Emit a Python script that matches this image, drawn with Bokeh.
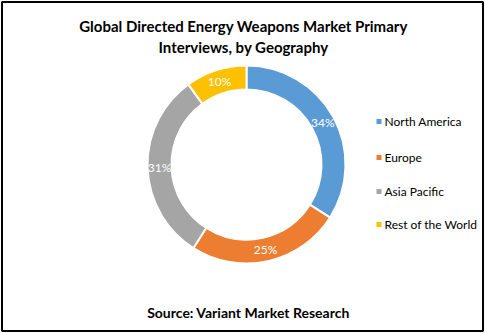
import numpy as np
from bokeh.plotting import figure
from bokeh.models import Range1d, ColumnDataSource
from bokeh.core.properties import value
from bokeh.embed import file_html
from bokeh.resources import INLINE

title_lines = ["Global Directed Energy Weapons Market Primary", "Interviews, by Geography"]
categories = ["North America", "Europe", "Asia Pacific", "Rest of the World"]
shares = [34, 25, 31, 10]
colors = ["#5B9BD5", "#ED7D31", "#A5A5A5", "#FFC000"]
source_note = "Source: Variant Market Research"

W, H = 485, 333
FONT = "Lato"

p = figure(width=W, height=H, output_backend="svg", toolbar_location=None,
           x_range=Range1d(0, W), y_range=Range1d(0, H), min_border=0)
p.axis.visible = False
p.grid.visible = False
p.outline_line_color = None
p.background_fill_color = "white"

# frame border
p.quad(left=[1.5], right=[482.5], top=[H - 1.5], bottom=[H - 330.5],
       fill_color=None, line_color="black", line_width=2)

cx, cy = 246, H - 164
r_in, r_out, r_lab = 75, 99, 87

vals = np.array(shares, dtype=float)
frac = vals / vals.sum()
cum = np.concatenate([[0], np.cumsum(frac)])
start = np.pi / 2 - cum[:-1] * 2 * np.pi
end = np.pi / 2 - cum[1:] * 2 * np.pi
mid = (start + end) / 2

src = ColumnDataSource(dict(start=start, end=end, color=colors,
                            lx=cx + r_lab * np.cos(mid), ly=cy + r_lab * np.sin(mid),
                            lab=[f"{v}%" for v in shares]))
p.annular_wedge(x=cx, y=cy, inner_radius=r_in, outer_radius=r_out,
                start_angle="start", end_angle="end", direction="clock",
                fill_color="color", line_color="white", line_width=2, source=src)
p.text(x="lx", y="ly", text="lab", source=src, text_color="white",
       text_font=value(FONT), text_font_size="12px",
       text_align="center", text_baseline="middle")

# legend
ly = [H - 121, H - 157, H - 191, H - 224]
leg = ColumnDataSource(dict(y=ly, color=colors, name=categories))
p.scatter(x=378.5, y="y", source=leg, marker="square", size=5,
          fill_color="color", line_color=None)
p.text(x=384, y="y", text="name", source=leg, text_color="#000000",
       text_font=value(FONT), text_font_size="12px",
       text_align="left", text_baseline="middle")

# title
p.text(x=[243, 243], y=[H - 25, H - 46], text=title_lines, text_color="#000000",
       text_font=value(FONT), text_font_size="15px", text_font_style="bold",
       text_align="center", text_baseline="middle")
p.text(x=[248], y=[H - 312], text=[source_note], text_color="#000000",
       text_font=value(FONT), text_font_size="14px", text_font_style="bold",
       text_align="center", text_baseline="middle")

open("out.html", "w").write(file_html(p, INLINE))
